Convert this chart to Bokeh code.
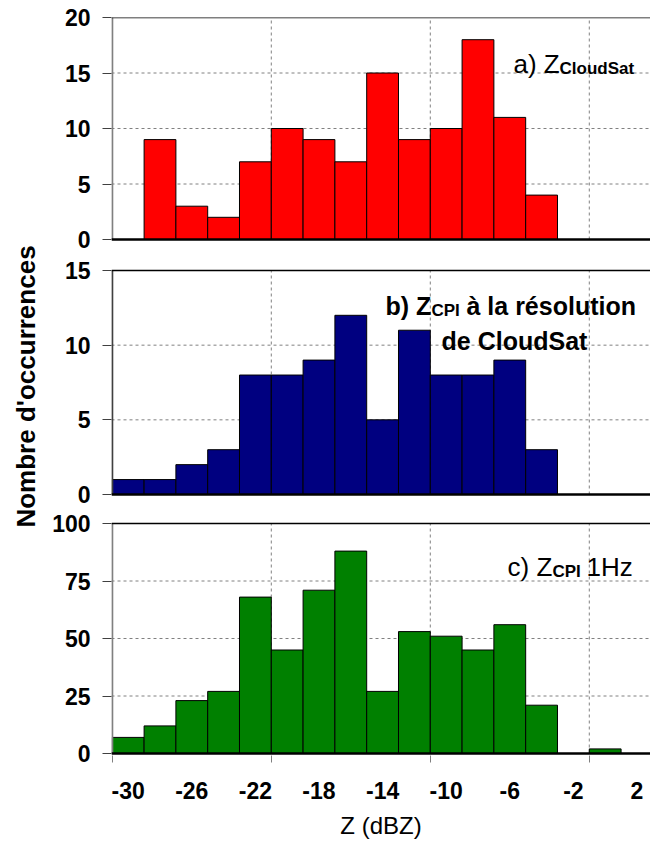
from bokeh.plotting import figure
from bokeh.models import Range1d, FixedTicker, Label
from bokeh.embed import file_html
from bokeh.resources import INLINE

# ---------------- data ----------------
bin_centers = [-30, -28, -26, -24, -22, -20, -18, -16, -14, -12, -10, -8, -6, -4, -2, 0, 2]
z_cloudsat = [0, 9, 3, 2, 7, 10, 9, 7, 15, 9, 10, 18, 11, 4, 0, 0, 0]
z_cpi_cloudsat_res = [1, 1, 2, 3, 8, 8, 9, 12, 5, 11, 8, 8, 9, 3, 0, 0, 0]
z_cpi_1hz = [7, 12, 23, 27, 68, 45, 71, 88, 27, 53, 51, 45, 56, 21, 0, 2, 0]
bin_width = 2

x_tick_labels = [-30, -26, -22, -18, -14, -10, -6, -2, 2]
x_grid_lines = [-31, -21, -11, -1]
y_ticks_a = [0, 5, 10, 15, 20]
y_ticks_b = [0, 5, 10, 15]
y_ticks_c = [0, 25, 50, 75, 100]

# ---------------- layout (page pixels, figure at page origin) ----------------
FONT = "Liberation Sans"
W, H = 650, 850
FRAME_TOP, FRAME_BOTTOM = 17, 755
FRAME_LEFT, FRAME_RIGHT = 111, 650
X_START, X_END = -31.05, 2.85

panels = [
    # key, values, colour, ticks, (page y of top, page y of zero), left line colour
    ("a", z_cloudsat, "#FF0000", y_ticks_a, (17, 239), "#808080"),
    ("b", z_cpi_cloudsat_res, "#000080", y_ticks_b, (270, 494), "#404040"),
    ("c", z_cpi_1hz, "#008000", y_ticks_c, (523, 753), "#808080"),
]

p = figure(width=W, height=H,
           x_range=Range1d(X_START, X_END),
           y_range=Range1d(FRAME_BOTTOM, FRAME_TOP),
           output_backend="svg", toolbar_location=None,
           min_border_left=FRAME_LEFT, min_border_right=W - FRAME_RIGHT,
           min_border_top=FRAME_TOP, min_border_bottom=H - FRAME_BOTTOM)
p.outline_line_color = None
p.background_fill_color = "white"
p.border_fill_color = "white"
p.xgrid.visible = False
p.ygrid.visible = False
p.extra_x_ranges = {"px": Range1d(FRAME_LEFT, FRAME_RIGHT)}

tick_pos = []
tick_lbl = {}
for key, vals, color, ticks, (ptop, pzero), lcol in panels:
    ymax = ticks[-1]
    s = (pzero - ptop) / ymax
    p.extra_y_ranges[key] = Range1d(-(FRAME_BOTTOM - pzero) / s, (pzero - FRAME_TOP) / s)
    for t in ticks:
        pos = round(pzero - t * s, 2)
        tick_pos.append(pos)
        tick_lbl[pos] = str(t)
    inner = ticks[1:-1]
    # horizontal dashed grid
    p.segment(x0=[X_START] * len(inner), x1=[X_END] * len(inner), y0=inner, y1=inner,
              y_range_name=key, line_color="#808080", line_width=1, line_dash="3 3")
    # vertical dashed grid
    vg = x_grid_lines[1:]
    p.segment(x0=vg, x1=vg, y0=[0] * len(vg), y1=[ymax] * len(vg),
              y_range_name=key, line_color="#808080", line_width=1, line_dash="3 3")
    # bars
    xs = [c for c, v in zip(bin_centers, vals) if v > 0]
    ys = [v for v in vals if v > 0]
    p.vbar(x=xs, top=ys, bottom=0, width=bin_width, y_range_name=key,
           fill_color=color, line_color="black", line_width=1)
    # panel frame lines
    p.segment(x0=[x_grid_lines[0]], x1=[x_grid_lines[0]], y0=[0], y1=[ymax],
              y_range_name=key, line_color=lcol, line_width=2)
    p.segment(x0=[X_START], x1=[X_END], y0=[ymax], y1=[ymax],
              y_range_name=key, line_color="black", line_width=1.5)
    p.segment(x0=[X_START], x1=[X_END], y0=[0], y1=[0],
              y_range_name=key, line_color="black", line_width=2.5)

# y axis (shared, positioned in page pixels)
yax = p.yaxis[0]
yax.ticker = FixedTicker(ticks=tick_pos, minor_ticks=[])
yax.major_label_overrides = tick_lbl
yax.axis_line_color = None
yax.major_tick_out = 9
yax.major_tick_in = 0
yax.major_tick_line_color = "#404040"
yax.minor_tick_out = 0
yax.minor_tick_in = 0
yax.major_label_standoff = 12
yax.major_label_text_font = FONT
yax.major_label_text_font_style = "bold"
yax.major_label_text_font_size = "23px"
yax.major_label_text_color = "black"
yax.axis_label = "Nombre d'occurrences"
yax.axis_label_text_font = FONT
yax.axis_label_text_font_style = "bold"
yax.axis_label_text_font_size = "26px"
yax.axis_label_text_color = "black"
yax.axis_label_standoff = 8

# x axis
xax = p.xaxis[0]
xax.ticker = FixedTicker(ticks=x_tick_labels, minor_ticks=x_grid_lines)
xax.major_label_overrides = {v: str(v) for v in x_tick_labels}
xax.axis_line_color = None
xax.major_tick_out = 0
xax.major_tick_in = 0
xax.minor_tick_out = 7
xax.minor_tick_in = 0
xax.minor_tick_line_color = "#808080"
xax.major_label_standoff = 19
xax.major_label_text_font = FONT
xax.major_label_text_font_style = "bold"
xax.major_label_text_font_size = "23px"
xax.major_label_text_color = "black"
xax.axis_label = "Z (dBZ)"
xax.axis_label_text_font = FONT
xax.axis_label_text_font_style = "normal"
xax.axis_label_text_font_size = "24px"
xax.axis_label_text_color = "black"
xax.axis_label_standoff = 10

# panel titles (page-pixel positions)
texts = [
    ("a) Z", 513, 63, "26px", "normal", "left"),
    ("CloudSat", 559, 68, "17px", "bold", "left"),
    ("b) Z", 385, 305, "25px", "bold", "left"),
    ("CPI", 431, 310, "17px", "bold", "left"),
    ("à la résolution", 466, 305, "25px", "bold", "left"),
    ("de CloudSat", 514, 340, "25px", "bold", "center"),
    ("c) Z", 507, 566, "26px", "normal", "left"),
    ("CPI", 552, 571, "17px", "bold", "left"),
    ("1Hz", 586, 566, "26px", "normal", "left"),
]
for t, x, y, size, style, align in texts:
    p.add_layout(Label(x=x, y=y, x_range_name="px", text=t, text_font=FONT,
                       text_font_size=size, text_font_style=style, text_color="black",
                       text_align=align, text_baseline="alphabetic"))

open("out.html", "w").write(file_html(p, INLINE))
